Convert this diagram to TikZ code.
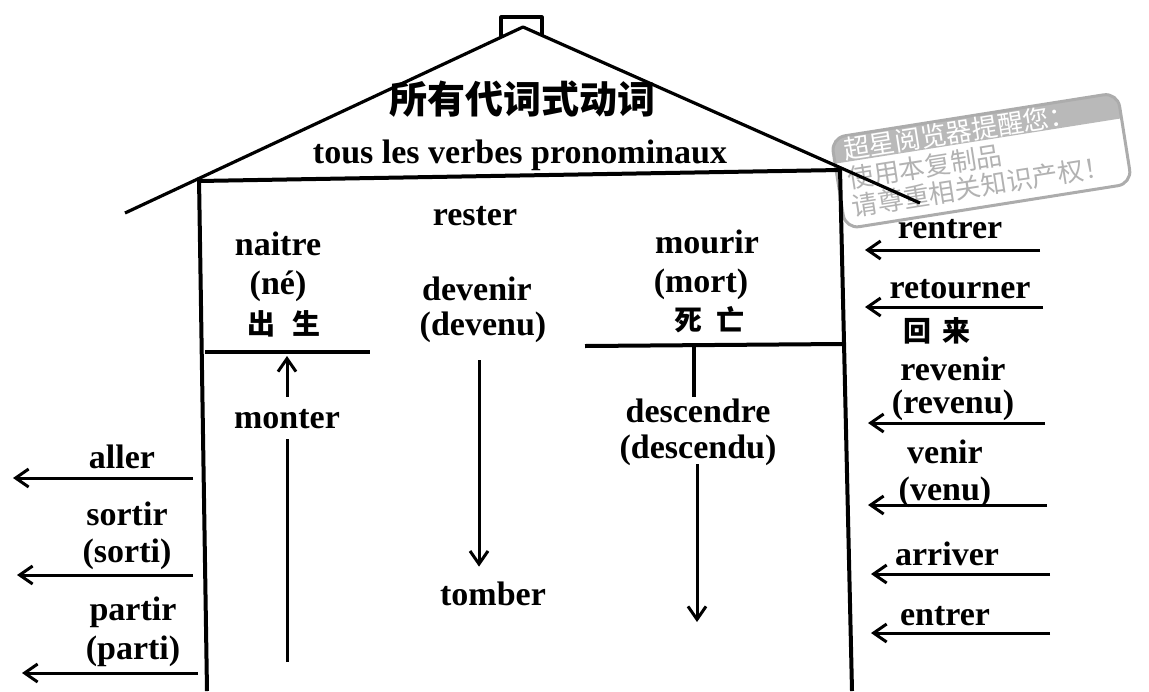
\documentclass[tikz,border=0pt]{standalone}
\usepackage{fontspec}
\setmainfont{Liberation Serif}
\newfontfamily\cjk{Noto Sans CJK SC}
\usetikzlibrary{arrows.meta,positioning}

\begin{document}
\begin{tikzpicture}[
  x=0.5pt,y=-0.5pt,
  node distance=4.5pt,
  >={Straight Barb[length=6.5pt,width=9pt]},
  word/.style={font=\fontsize{17}{20}\selectfont\bfseries,inner sep=2pt,
               text height=10.5pt,text depth=0.5pt},
  hanzi/.style={word,font=\fontsize{14}{16}\selectfont\cjk\bfseries},
  stamp/.style={font=\fontsize{13}{14}\selectfont\cjk,anchor=west,
                inner sep=0pt,rotate=9},
  wall/.style={line width=2pt},
  roof/.style={line width=1.6pt,line join=round},
  bar/.style={line width=2pt},
  motion/.style={->,line width=1.5pt},
]
  \useasboundingbox (0,0) rectangle (1149,691);

  % watermark
  \begin{scope}[shift={(831,138)},rotate=9]
    \begin{scope}
      \clip[rounded corners=7pt] (0,0) rectangle (290,92);
      \fill[white] (0,0) rectangle (290,92);
      \fill[gray!55] (0,0) rectangle (290,26);
    \end{scope}
    \draw[gray!65,line width=1.5pt,rounded corners=7pt] (0,0) rectangle (290,92);
    \node[stamp,text=white]   (wm1) at (10,14) {超星阅览器提醒您：};
    \node[stamp,text=gray!60] (wm2) at (10,43) {使用本复制品};
    \node[stamp,text=gray!60] (wm3) at (10,71) {请尊重相关知识产权！};
  \end{scope}

  % house
  \draw[roof] (125,213) -- (523,27) -- (920,203);
  \draw[roof] (501,37) -- (501,17) -- (542,17) -- (542,36);
  \draw[wall] (199,178) -- (207,691);
  \draw[wall] (840,169) -- (852,691);
  \draw[wall] (199,181) -- (840,170);

  \node[hanzi,font=\fontsize{19}{22}\selectfont\cjk\bfseries] (all) at (522,103) {所有代词式动词};
  \node[word] (pron) at (520,153) {tous les verbes pronominaux};

  % inside
  \node[word] (rester) at (475,215) {rester};
  \node[word] (naitre) at (278,245) {naitre};
  \node[word,below=of naitre] (ne) {(né)};
  \node[hanzi,below=of ne,xshift=3pt] (born) {出\hspace{0.6em}生};
  \node[word] (devenir) at (477,290) {devenir};
  \node[word,below=2.5pt of devenir,xshift=3pt] (devenu) {(devenu)};
  \node[word] (mourir) at (707,243) {mourir};
  \node[word,below=of mourir,xshift=-3pt] (mort) {(mort)};
  \node[hanzi,below=3.5pt of mort,xshift=4pt] (death) {死\hspace{0.5em}亡};
  \node[word] (monter) at (287,418) {monter};
  \node[word] (descendre) at (698,412) {descendre};
  \node[word,below=3pt of descendre] (descendu) {(descendu)};
  \node[word] (tomber) at (493,595) {tomber};

  \coordinate (birthbar-w) at (205,352);
  \coordinate (birthbar-e) at (370,352);
  \coordinate (deathbar-w) at (585,346);
  \coordinate (deathbar-e) at (842,344);
  \coordinate (tick) at (694,346);
  \coordinate (mont-bot) at (287,662);
  \coordinate (mont-top) at (287,356);
  \coordinate (dev-top) at (479,360);
  \coordinate (desc-tip) at (697,622);

  \draw[bar] (birthbar-w) -- (birthbar-e);
  \draw[bar] (deathbar-w) -- (deathbar-e);
  \draw[bar] (tick) -- (tick |- descendre.north);
  \draw[line width=1.5pt] (mont-bot) -- ([yshift=-3pt]monter.south -| mont-bot);
  \draw[motion] ([yshift=3pt]monter.north -| mont-bot) -- (mont-top);
  \draw[motion] (dev-top) -- ([yshift=6.5pt]dev-top |- tomber.north);
  \draw[motion] (descendu.south -| desc-tip) -- (desc-tip);

  % going out, left side
  \node[word] (aller) at (122,458) {aller};
  \node[word] (sortir) at (127,515) {sortir};
  \node[word,below=3.5pt of sortir] (sorti) {(sorti)};
  \node[word] (partir) at (133,610) {partir};
  \node[word,below=of partir] (parti) {(parti)};

  \coordinate (aller-s) at (193,478);  \coordinate (aller-e) at (13,478);
  \coordinate (sortir-s) at (193,575); \coordinate (sortir-e) at (17,575);
  \coordinate (partir-s) at (198,673); \coordinate (partir-e) at (22,673);
  \draw[motion] (aller-s) -- (aller-e);
  \draw[motion] (sortir-s) -- (sortir-e);
  \draw[motion] (partir-s) -- (partir-e);

  % coming in, right side
  \node[word] (rentrer) at (950,228) {rentrer};
  \node[word] (retourner) at (960,288) {retourner};
  \node[hanzi] (back) at (937,331) {回\hspace{0.4em}来};
  \node[word] (revenir) at (953,370) {revenir};
  \node[word,below=1.5pt of revenir] (revenu) {(revenu)};
  \node[word] (venir) at (945,453) {venir};
  \node[word,below=3.5pt of venir] (venu) {(venu)};
  \node[word] (arriver) at (947,555) {arriver};
  \node[word] (entrer) at (945,615) {entrer};

  \coordinate (rentrer-s) at (1040,250);   \coordinate (rentrer-e) at (865,250);
  \coordinate (retourner-s) at (1043,307); \coordinate (retourner-e) at (865,307);
  \coordinate (revenir-s) at (1045,423);   \coordinate (revenir-e) at (868,423);
  \coordinate (venir-s) at (1047,505);     \coordinate (venir-e) at (868,505);
  \coordinate (arriver-s) at (1050,574);   \coordinate (arriver-e) at (871,574);
  \coordinate (entrer-s) at (1050,633);    \coordinate (entrer-e) at (871,633);
  \draw[motion] (rentrer-s) -- (rentrer-e);
  \draw[motion] (retourner-s) -- (retourner-e);
  \draw[motion] (revenir-s) -- (revenir-e);
  \draw[motion] (venir-s) -- (venir-e);
  \draw[motion] (arriver-s) -- (arriver-e);
  \draw[motion] (entrer-s) -- (entrer-e);
\end{tikzpicture}
\end{document}
